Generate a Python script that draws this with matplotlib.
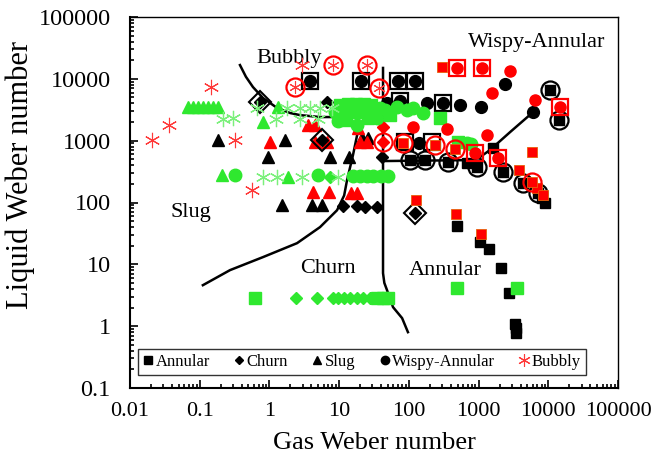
import matplotlib
matplotlib.use("Agg")
import matplotlib.pyplot as plt
from matplotlib.ticker import LogLocator, FuncFormatter, NullFormatter
from matplotlib.lines import Line2D

plt.rcParams['font.family'] = ['Liberation Serif', 'DejaVu Serif']

GREEN = '#2FE82F'
GREEN_L = '#7CF07C'
RED = '#FF0000'
RED_L = '#FF3838'
BLACK = '#000000'

# ---------------- data (Gas We, Liquid We) ----------------
# Annular (squares)
ann_black_x = [491, 1050, 1420, 2100, 2740, 3340, 3460, 3460, 9000, 8000, 685, 1620]
ann_black_y = [41.5, 22.9, 17.6, 8.7, 3.4, 1.1, 0.93, 0.77, 100, 120, 438, 759]
ann_black_in_circle_x = [104, 171, 365, 951, 2240, 4350, 7180, 10600, 14300]
ann_black_in_circle_y = [485, 485, 453, 376, 316, 207, 143, 6590, 2150]
ann_red_x = [300, 127, 476, 1090, 5850, 3810, 6940, 8410]
ann_red_y = [15500, 109, 64.9, 30.8, 654, 334, 171, 132]
ann_red_in_circle_x = [82.5, 238, 460, 5850]
ann_red_in_circle_y = [917, 849, 733, 214]
ann_green_x = [0.62, 35, 42.6, 50, 491, 3580, 10.3, 13.4, 17.5, 22.7, 29, 11, 15.3, 21.3, 29, 12.6, 26, 53.7, 281, 508]
ann_green_y = [2.84, 2.84, 2.84, 2.84, 4.12, 4.12, 3770, 3900, 3900, 3900, 3770, 2900, 2900, 2900, 2900, 2150, 2330, 2590, 2330, 950]

# Churn (diamonds)
churn_black_x = [6.7, 41.2, 11.4, 18.1, 23.5, 35]
churn_black_y = [4210, 543, 87.5, 87.5, 84.5, 84.5]
churn_black_outlined_x = [0.73, 5.69, 123]
churn_black_outlined_y = [4210, 1020, 67.3]
churn_red_x = [42.6]
churn_red_y = [1660]
churn_red_in_circle_x = [42.6]
churn_red_in_circle_y = [950]
churn_green_x = [2.41, 4.82, 8.17, 9.6, 11.8, 14.3, 18.1, 22, 27.7, 7.4]
churn_green_y = [2.84, 2.84, 2.84, 2.84, 2.84, 2.84, 2.84, 2.84, 2.84, 258]

# Slug (triangles)
slug_black_x = [0.183, 1.67, 0.955, 7.4, 13.9, 1.52, 4.08, 5.69, 21.3, 26]
slug_black_y = [1020, 1020, 543, 543, 543, 90.8, 90.8, 90.8, 1100, 1100]
slug_red_x = [3.58, 4.51, 1.02, 4.51, 6.7, 20, 25.1, 18.7, 4.2, 7.15, 14.8, 18.1]
slug_red_y = [1790, 1790, 950, 950, 950, 950, 950, 1600, 148, 148, 143, 143]
slug_green_x = [0.068, 0.080, 0.095, 0.111, 0.131, 0.155, 0.183, 0.81, 1.32, 0.209, 1.85]
slug_green_y = [3500, 3500, 3500, 3500, 3500, 3500, 3500, 2000, 3500, 277, 258]

# Wispy-Annular (circles)
wa_black_x = [48.6, 182, 543, 1090, 2400, 6050, 141]
wa_black_y = [4060, 4060, 3770, 3500, 8200, 2900, 917]
wa_black_in_square_x = [3.82, 20.6, 70, 123, 74.8, 310]
wa_black_in_square_y = [9210, 9210, 9210, 9210, 4380, 4060]
wa_red_x = [2840, 1560, 6470, 115, 353, 1330]
wa_red_y = [13400, 5890, 4540, 1660, 1550, 1230]
wa_red_in_square_x = [491, 1120, 14800, 1900, 890]
wa_red_in_square_y = [15000, 15000, 3500, 525, 632]
wa_green_x = [0.32, 4.98, 8.73, 9.6, 18.1, 35, 38.6, 45.6, 67.8, 94, 115, 160, 685, 780,
              15.8, 20, 25.1, 30.6, 40, 50]
wa_green_y = [277, 277, 2900, 2070, 1790, 2330, 3380, 3130, 3500, 3130, 3380, 2800, 917, 880,
              267, 267, 267, 267, 267, 267]
# black hollow squares around mixed red points
mixed_square_x = [88.2, 215]
mixed_square_y = [950, 950]

# Bubbly (asterisks)
bub_red_x = [0.021, 0.036, 0.145, 0.32, 0.56, 2.94]
bub_red_y = [1020, 1790, 7370, 1020, 159, 16700]
bub_red_in_circle_x = [8.17, 25.1, 2.33, 37.3]
bub_red_in_circle_y = [16700, 16700, 7370, 7100]
bub_green_x = [0.216, 0.30, 0.66, 1.25, 1.79, 2.75, 3.82, 5.32, 2.75, 4.98, 7.9,
               0.81, 1.29, 2.94, 9.6]
bub_green_y = [2250, 2330, 3380, 2250, 3380, 3380, 3380, 3380, 2250, 2250, 3380,
               258, 258, 258, 258]

# Regime boundaries
b_bubbly_x = [0.378, 0.46, 0.58, 0.81, 1.29, 1.98, 2.75, 5.32, 45.6]
b_bubbly_y = [16700, 10800, 7370, 4890, 3380, 2800, 2590, 2410, 2410]
b_slug_x = [0.111, 0.272, 0.81, 2.49, 5.32, 9.33, 11.8, 12.98, 15.8, 18.1, 18.7]
b_slug_y = [4.6, 8.06, 13.1, 22, 40, 75, 130, 230, 585, 1230, 2410]
b_churn_x = [42.6, 42.6, 44.5, 48.6, 59.3, 80, 97]
b_churn_y = [15000, 7.2, 5.0, 3.83, 2.03, 1.35, 0.80]
b_wispy_x = [42.6, 755, 1050, 1460, 2840, 5850]
b_wispy_y = [468, 485, 543, 707, 1380, 2800]

region_labels = ['Bubbly', 'Wispy-Annular', 'Slug', 'Churn', 'Annular']
legend_labels = ['Annular', 'Churn', 'Slug', 'Wispy-Annular', 'Bubbly']

# ---------------- figure ----------------
fig = plt.figure(figsize=(6.56, 4.62), dpi=100)
ax = fig.add_axes([130/656, 74/462, 488/656, 371/462])
ax.set_xscale('log')
ax.set_yscale('log')
ax.set_xlim(0.01, 100000)
ax.set_ylim(0.1, 100000)

ASTER = (6, 2, 0)

def pts(x, y, **kw):
    kw.setdefault('linestyle', 'none')
    ax.plot(x, y, **kw)

# boundaries
for bx, by in [(b_bubbly_x, b_bubbly_y), (b_slug_x, b_slug_y),
               (b_churn_x, b_churn_y), (b_wispy_x, b_wispy_y)]:
    ax.plot(bx, by, color='black', lw=1.8, zorder=2, solid_joinstyle='round')

# black / red filled
pts(slug_black_x, slug_black_y, marker='^', ms=8, color=BLACK, zorder=3)
pts(slug_red_x, slug_red_y, marker='^', ms=8, color=RED, zorder=3)
pts(churn_black_x, churn_black_y, marker='D', ms=6, color=BLACK, zorder=3)
pts(churn_black_outlined_x, churn_black_outlined_y, marker='D', ms=6, color=BLACK, zorder=3)
pts(churn_black_outlined_x, churn_black_outlined_y, marker='D', ms=11, mfc='none', mec=BLACK, mew=1.5, zorder=3)
pts(churn_red_x, churn_red_y, marker='D', ms=6, color=RED, zorder=3)
pts(churn_red_in_circle_x, churn_red_in_circle_y, marker='D', ms=6, color=RED, zorder=3)
pts(churn_red_in_circle_x, churn_red_in_circle_y, marker='o', ms=13, mfc='none', mec=RED, mew=1.5, zorder=3)

pts(wa_black_x, wa_black_y, marker='o', ms=8.5, color=BLACK, zorder=3)
pts(wa_black_in_square_x, wa_black_in_square_y, marker='o', ms=8.5, color=BLACK, zorder=3)
pts(wa_black_in_square_x, wa_black_in_square_y, marker='s', ms=12, mfc='none', mec=BLACK, mew=1.6, zorder=3)

pts(ann_black_x, ann_black_y, marker='s', ms=7.5, color=BLACK, zorder=3)
pts(ann_black_in_circle_x, ann_black_in_circle_y, marker='s', ms=7.5, color=BLACK, zorder=3)
pts(ann_black_in_circle_x, ann_black_in_circle_y, marker='o', ms=13, mfc='none', mec=BLACK, mew=1.6, zorder=3)

# green
pts(ann_green_x, ann_green_y, marker='s', ms=8.5, color=GREEN, zorder=4)
pts(wa_green_x, wa_green_y, marker='o', ms=9, color=GREEN, zorder=4)
pts(churn_green_x, churn_green_y, marker='D', ms=6.5, color=GREEN, zorder=4)
pts(slug_green_x, slug_green_y, marker='^', ms=9, color=GREEN, zorder=4)
pts(bub_green_x, bub_green_y, marker=ASTER, ms=11, mec=GREEN_L, mew=0.9, zorder=4)

# red circle / square combos
pts(mixed_square_x, mixed_square_y, marker='s', ms=12, mfc='none', mec=BLACK, mew=1.6, zorder=5)
pts(wa_red_x, wa_red_y, marker='o', ms=8, color=RED, zorder=5)
pts(wa_red_in_square_x, wa_red_in_square_y, marker='o', ms=8, color=RED, zorder=5)
pts(wa_red_in_square_x, wa_red_in_square_y, marker='s', ms=12, mfc='none', mec=RED, mew=1.6, zorder=5)
pts(ann_red_x, ann_red_y, marker='s', ms=7.5, mfc=RED, mec='#E8600A', mew=0.6, zorder=5)
pts(ann_red_in_circle_x, ann_red_in_circle_y, marker='s', ms=7.5, mfc=RED, mec='#E8600A', mew=0.6, zorder=5)
pts(ann_red_in_circle_x, ann_red_in_circle_y, marker='o', ms=13, mfc='none', mec=RED, mew=1.6, zorder=5)
pts(bub_red_x, bub_red_y, marker=ASTER, ms=11, mec=RED_L, mew=0.8, zorder=5)
pts(bub_red_in_circle_x, bub_red_in_circle_y, marker=ASTER, ms=9, mec=RED_L, mew=0.8, zorder=5)
pts(bub_red_in_circle_x, bub_red_in_circle_y, marker='o', ms=13, mfc='none', mec=RED, mew=1.6, zorder=5)

# region labels
ax.text(0.326, 0.889, region_labels[0], transform=ax.transAxes, fontsize=16, ha='center', va='center')
ax.text(0.834, 0.93, region_labels[1], transform=ax.transAxes, fontsize=16, ha='center', va='center')
ax.text(0.125, 0.474, region_labels[2], transform=ax.transAxes, fontsize=16, ha='center', va='center')
ax.text(0.406, 0.323, region_labels[3], transform=ax.transAxes, fontsize=16, ha='center', va='center')
ax.text(0.645, 0.318, region_labels[4], transform=ax.transAxes, fontsize=16, ha='center', va='center')

# axes styling
for s in ax.spines.values():
    s.set_linewidth(1.5)
ax.spines['top'].set_linewidth(1.0)
ax.spines['right'].set_linewidth(1.0)
ax.xaxis.set_major_locator(LogLocator(base=10, numticks=20))
ax.yaxis.set_major_locator(LogLocator(base=10, numticks=20))
ax.xaxis.set_minor_locator(LogLocator(base=10, subs=range(2, 10), numticks=20))
ax.yaxis.set_minor_locator(LogLocator(base=10, subs=range(2, 10), numticks=20))
fmt = FuncFormatter(lambda v, p: '{:g}'.format(v) if v < 1e5 else '{:.0f}'.format(v))
ax.xaxis.set_major_formatter(fmt)
ax.yaxis.set_major_formatter(fmt)
ax.xaxis.set_minor_formatter(NullFormatter())
ax.yaxis.set_minor_formatter(NullFormatter())
ax.tick_params(which='both', direction='in', top=False, right=False, width=1.2)
ax.tick_params(which='major', length=6)
ax.tick_params(which='minor', length=3)
ax.tick_params(axis='x', labelsize=16, pad=10)
ax.tick_params(axis='y', labelsize=17.5, pad=14)

ax.set_xlabel('Gas Weber number', fontsize=19, labelpad=8)
ax.set_ylabel('Liquid Weber number', fontsize=22)
ax.yaxis.set_label_coords(-0.195, 0.575)

handles = [
    Line2D([], [], marker='s', ls='none', color=BLACK, ms=6),
    Line2D([], [], marker='D', ls='none', color=BLACK, ms=4.5),
    Line2D([], [], marker='^', ls='none', color=BLACK, ms=6),
    Line2D([], [], marker='o', ls='none', color=BLACK, ms=6),
    Line2D([], [], marker=ASTER, ls='none', mec=RED_L, ms=9, mew=0.8),
]
leg = ax.legend(handles, legend_labels, loc='center', bbox_to_anchor=(0.4755, 0.071),
                ncol=5, fontsize=12, frameon=True, fancybox=False, edgecolor='black',
                handlelength=0.6, handletextpad=0.15, columnspacing=1.45,
                borderpad=0.3, borderaxespad=0)
leg.get_frame().set_linewidth(1.0)

fig.savefig('out.png', dpi=100)
